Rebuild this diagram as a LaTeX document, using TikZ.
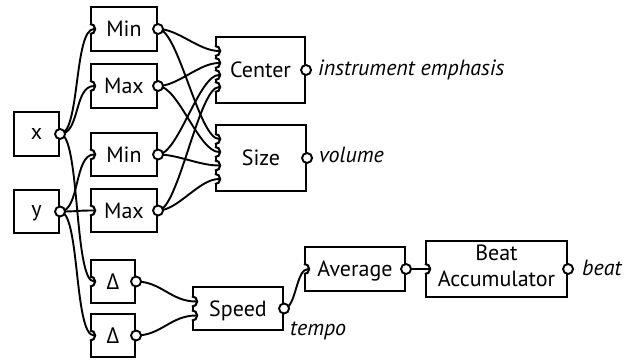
\documentclass[tikz,border=0pt]{standalone}
\usepackage{fontspec}
\setmainfont{PT Sans}
\newfontfamily\grk{Open Sans}
\newcommand\dfont{\fontsize{22}{26}\selectfont}
\newcommand\sockt[1]{%
  \fill[white] ([xshift=-1.6pt,yshift=-5.2pt]#1) rectangle ([xshift=1.6pt,yshift=5.2pt]#1);
  \draw[line width=2.1pt] ([yshift=5.2pt]#1) arc[start angle=90,end angle=-90,radius=5.2pt];}
\begin{document}
\begin{tikzpicture}[x=1pt,y=-1pt,
  blk/.style={draw, line width=2.1pt, inner sep=0pt, font=\dfont, text height=15.4pt, text depth=0pt},
  wire/.style={line width=1.9pt},
  w/.style={out=0,in=180,distance=#1},
  w/.default=20pt,
  port/.style={circle, draw, fill=white, line width=1.9pt, minimum size=10pt, inner sep=0pt},
  lab/.style={font=\dfont\itshape, inner sep=0pt, anchor=base west}]
\useasboundingbox (0,0) rectangle (639,363);
% boxes
\node[blk,minimum width=45pt,minimum height=44pt,text height=11pt] (X) at (36.5,134) {x};
\node[blk,minimum width=45pt,minimum height=43pt,text height=11pt] (Y) at (36.5,211.5) {y};
\node[blk,minimum width=66pt,minimum height=44pt] (Min1) at (124,29) {Min};
\node[blk,minimum width=66pt,minimum height=44pt] (Max1) at (124,86) {Max};
\node[blk,minimum width=66pt,minimum height=43pt] (Min2) at (124,154.5) {Min};
\node[blk,minimum width=66pt,minimum height=43pt] (Max2) at (124,210.5) {Max};
\node[blk,minimum width=89pt,minimum height=66pt] (Center) at (260.5,70) {Center};
\node[blk,minimum width=90pt,minimum height=66pt] (Size) at (261,158) {Size};
\node[blk,minimum width=44pt,minimum height=43pt] (D1) at (113,281.5) {\grk Δ};
\node[blk,minimum width=44pt,minimum height=43pt] (D2) at (113,335.5) {\grk Δ};
\node[blk,minimum width=90pt,minimum height=43pt] (Speed) at (238,308.5) {Speed};
\node[blk,minimum width=100pt,minimum height=44pt] (Avg) at (355,269) {Average};
\node[blk,minimum width=141pt,minimum height=56pt,text height=41.4pt,text depth=7pt] (Beat) at (496.5,269)
  {\vbox{\baselineskip=26pt\lineskiplimit=-20pt\hbox to 0pt{\hss Beat\hss}\hbox to 0pt{\hss Accumulator\hss}}};
% output ports
\coordinate (pX) at (X.east);
\coordinate (pY) at (Y.east);
\coordinate (pMin1) at (Min1.east);
\coordinate (pMax1) at (Max1.east);
\coordinate (pMin2) at (Min2.east);
\coordinate (pMax2) at (Max2.east);
\coordinate (pCenter) at (Center.east);
\coordinate (pSize) at (Size.east);
\coordinate (pD1) at (D1.east);
\coordinate (pD2) at (D2.east);
\coordinate (pSpeed) at (Speed.east);
\coordinate (pAvg) at (Avg.east);
\coordinate (pBeat) at (Beat.east);
% input sockets
\coordinate (iMin1) at (Min1.west);
\coordinate (iMax1) at (Max1.west);
\coordinate (iMin2) at (Min2.west);
\coordinate (iMax2) at (Max2.west);
\coordinate (iD1) at (D1.west);
\coordinate (iD2) at (D2.west);
\coordinate (iAvg) at (Avg.west);
\coordinate (iBeat) at (Beat.west);
\coordinate (c1) at ([yshift=19pt]Center.west);
\coordinate (c2) at ([yshift=7pt]Center.west);
\coordinate (c3) at ([yshift=-5pt]Center.west);
\coordinate (c4) at ([yshift=-17pt]Center.west);
\coordinate (s1) at ([yshift=19pt]Size.west);
\coordinate (s2) at ([yshift=6pt]Size.west);
\coordinate (s3) at ([yshift=-7.5pt]Size.west);
\coordinate (s4) at ([yshift=-21pt]Size.west);
\coordinate (q1) at ([yshift=7pt]Speed.west);
\coordinate (q2) at ([yshift=-7pt]Speed.west);
\foreach \n in {iMin1,iMax1,iMin2,iMax2,iD1,iD2,iAvg,iBeat,c1,c2,c3,c4,s1,s2,s3,s4,q1,q2}{\sockt{\n}}
% wires
\draw[wire] (pX) to[w] ([xshift=4pt]iMin1);
\draw[wire] (pX) to[w] ([xshift=4pt]iMax1);
\draw[wire] (pX) to[w] ([xshift=4pt]iD1);
\draw[wire] (pY) to[w] ([xshift=4pt]iMin2);
\draw[wire] (pY) to[w] ([xshift=4pt]iMax2);
\draw[wire] (pY) to[w] ([xshift=4pt]iD2);
\draw[wire] (pMin1) to[w] ([xshift=4pt]c1);
\draw[wire] (pMax1) to[w] ([xshift=4pt]c2);
\draw[wire] (pMin2) to[w] ([xshift=4pt]c3);
\draw[wire] (pMax2) to[w] ([xshift=4pt]c4);
\draw[wire] (pMin1) to[w] ([xshift=4pt]s1);
\draw[wire] (pMax1) to[w] ([xshift=4pt]s2);
\draw[wire] (pMin2) to[w] ([xshift=4pt]s3);
\draw[wire] (pMax2) to[w] ([xshift=4pt]s4);
\draw[wire] (pD1) to[w=25pt] ([xshift=4pt]q1);
\draw[wire] (pD2) to[w=25pt] ([xshift=4pt]q2);
\draw[wire] (pSpeed) to[w=12pt] ([xshift=4pt]iAvg);
\draw[wire] (pAvg) -- ([xshift=4pt]iBeat);
% port circles
\foreach \n in {X,Y,Min1,Max1,Min2,Max2,Center,Size,D1,D2,Speed,Avg,Beat}{\node[port] (o\n) at (p\n) {};}
% labels
\node[lab] (lEmph) at (318,76) {instrument emphasis};
\node[lab] (lVol) at (319,163) {volume};
\node[lab] (lBeatOut) at (582,275) {beat};
\node[lab] (lTempo) at (290,335) {tempo};
\end{tikzpicture}
\end{document}
